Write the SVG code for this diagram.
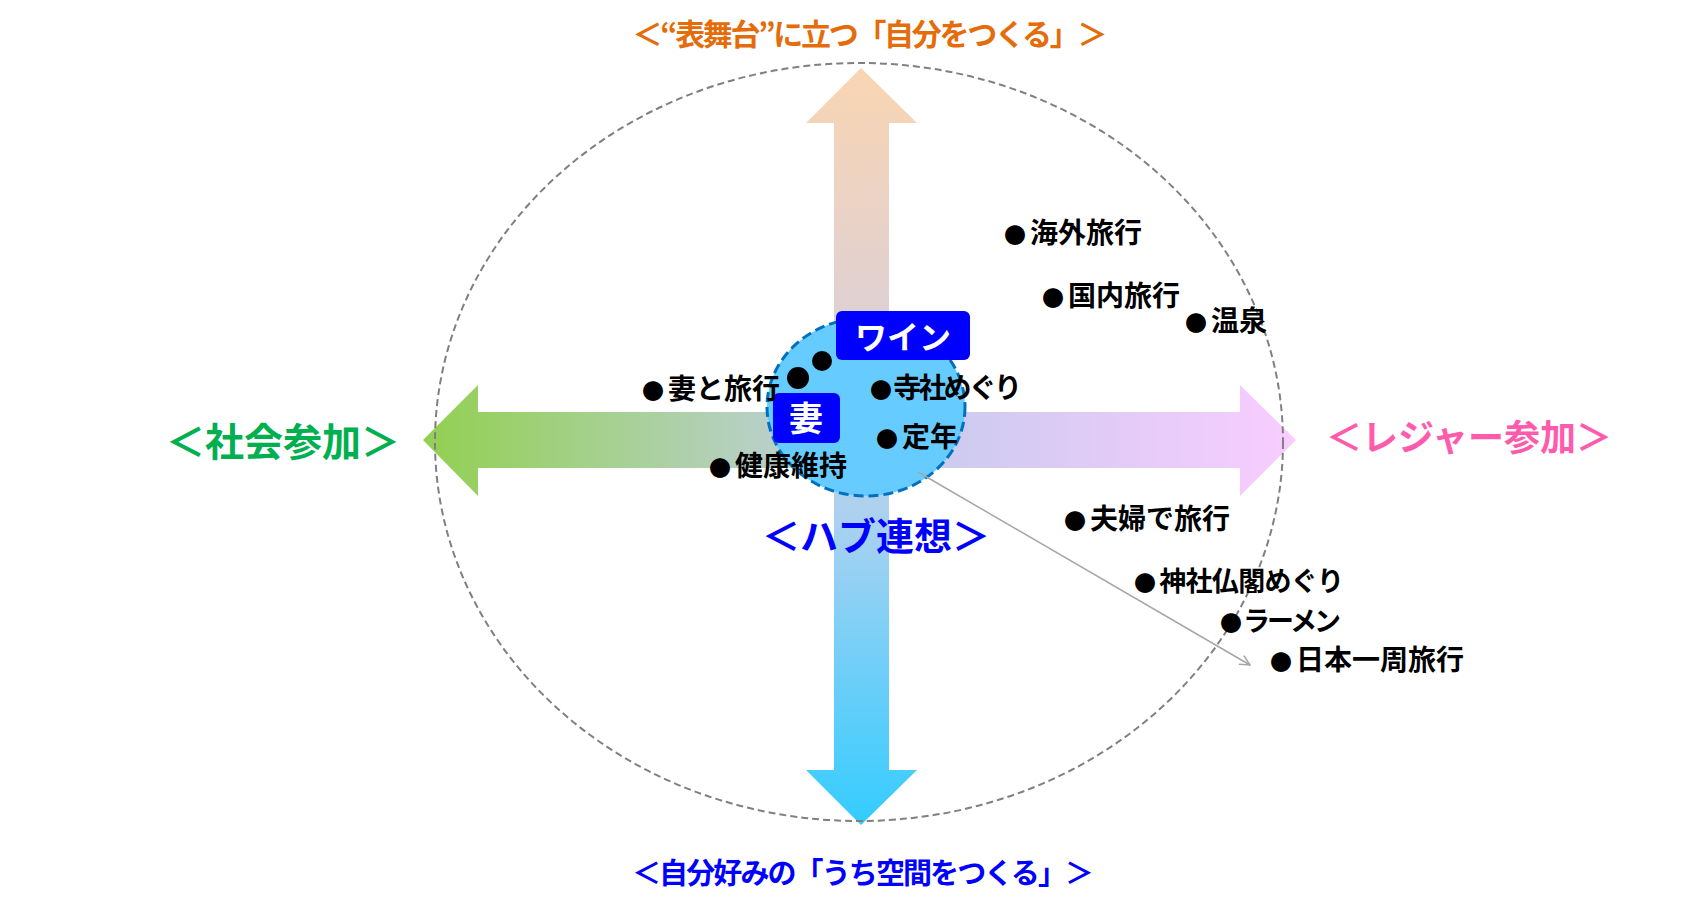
<svg xmlns="http://www.w3.org/2000/svg" width="1701" height="916" viewBox="0 0 1701 916">
<defs>
<linearGradient id="gV" gradientUnits="userSpaceOnUse" x1="0" y1="68" x2="0" y2="825">
<stop offset="0" stop-color="#F9D5B2"/>
<stop offset="0.35" stop-color="#DDD0D6"/>
<stop offset="0.6" stop-color="#A9D1F0"/>
<stop offset="1" stop-color="#33CCFF"/>
</linearGradient>
<linearGradient id="gH" gradientUnits="userSpaceOnUse" x1="423" y1="0" x2="1296" y2="0">
<stop offset="0" stop-color="#92D050"/>
<stop offset="0.38" stop-color="#B6D0C4"/>
<stop offset="0.62" stop-color="#CFCBF0"/>
<stop offset="1" stop-color="#F9CCFF"/>
</linearGradient>
<marker id="openArrow" viewBox="0 0 12 12" refX="11" refY="6" markerWidth="12" markerHeight="12" markerUnits="userSpaceOnUse" orient="auto">
<path d="M1,1 L11,6 L1,11" fill="none" stroke="#A6A6A6" stroke-width="1.5"/>
</marker>
<style>
.t{font-family:"Noto Sans CJK JP","Noto Sans",sans-serif;font-weight:bold}
.lbl{font-size:28px;fill:#000}
.sm{font-size:27px}
.b{font-size:22px}
.ttl{text-anchor:middle}
</style>
</defs>
<rect width="1701" height="916" fill="#FFFFFF"/>
<g id="arrows">
<polygon id="arrow-horizontal" points="423,440 478,385 478,412 1240,412 1240,385 1296,440 1240,496 1240,468 478,468 478,496" fill="url(#gH)"/>
<polygon id="arrow-vertical" points="861,68 917,123 889,123 889,770 917,770 861,825 806,770 834,770 834,123 806,123" fill="url(#gV)"/>
</g>
<g id="outer-ellipse">
<ellipse cx="859" cy="442" rx="424" ry="379" fill="none" stroke="#808080" stroke-width="2" stroke-dasharray="7,4"/>
</g>
<g id="hub">
<ellipse cx="866" cy="407" rx="99" ry="89" fill="#66CCFF" stroke="#0070C0" stroke-width="3" stroke-dasharray="10,5"/>
<circle cx="822" cy="361" r="10" fill="#000"/>
<circle cx="798" cy="378" r="11" fill="#000"/>
</g>
<g id="connectors">
<line x1="918" y1="472" x2="1250" y2="665" stroke="#A6A6A6" stroke-width="1.5" marker-end="url(#openArrow)"/>
</g>
<g id="node-wine">
<rect x="836" y="311" width="134" height="49" rx="6" fill="#0000FF"/>
<text class="t ttl" x="903" y="349" font-size="32" fill="#FFFFFF">ワイン</text>
</g>
<g id="node-tsuma">
<rect x="773" y="393" width="67" height="50" rx="6" fill="#0000FF"/>
<text class="t ttl" x="806" y="431" font-size="34" fill="#FFFFFF">妻</text>
</g>
<g id="labels">
<text id="l1" class="t lbl" x="1004" y="243"><tspan class="b">●</tspan><tspan dx="4">海外旅行</tspan></text>
<text id="l2" class="t lbl" x="1042" y="306"><tspan class="b">●</tspan><tspan dx="4">国内旅行</tspan></text>
<text id="l3" class="t lbl" x="1185" y="331"><tspan class="b">●</tspan><tspan dx="4">温泉</tspan></text>
<text id="l4" class="t lbl" x="870" y="398" textLength="152" lengthAdjust="spacing"><tspan class="b">●</tspan><tspan dx="4">寺社めぐり</tspan></text>
<text id="l5" class="t lbl" x="876" y="447"><tspan class="b">●</tspan><tspan dx="4">定年</tspan></text>
<text id="l6" class="t lbl" x="642" y="399"><tspan class="b">●</tspan><tspan dx="4">妻と旅行</tspan></text>
<text id="l7" class="t lbl" x="709" y="476"><tspan class="b">●</tspan><tspan dx="4">健康維持</tspan></text>
<text id="l8" class="t lbl" x="1064" y="529"><tspan class="b">●</tspan><tspan dx="4">夫婦で旅行</tspan></text>
<text id="l9" class="t lbl sm" x="1134" y="591" textLength="210" lengthAdjust="spacing"><tspan class="b">●</tspan><tspan dx="4">神社仏閣めぐり</tspan></text>
<text id="l10" class="t lbl sm" x="1220" y="631" textLength="121" lengthAdjust="spacing"><tspan class="b">●</tspan><tspan dx="4">ラーメン</tspan></text>
<text id="l11" class="t lbl" x="1270" y="670"><tspan class="b">●</tspan><tspan dx="4">日本一周旅行</tspan></text>
</g>
<g id="titles">
<text id="title-top" class="t ttl" x="870" y="45" font-size="30" fill="#E46C0A" textLength="475" lengthAdjust="spacing">＜“表舞台”に立つ「自分をつくる」＞</text>
<text id="title-bottom" class="t ttl" x="863" y="884" font-size="29" fill="#0000FF" textLength="462" lengthAdjust="spacing">＜自分好みの「うち空間をつくる」＞</text>
<text id="title-left" class="t ttl" x="283" y="456" font-size="39" fill="#00B050" textLength="234" lengthAdjust="spacing">＜社会参加＞</text>
<text id="title-right" class="t ttl" x="1469" y="451" font-size="36" fill="#FF5BAD">＜レジャー参加＞</text>
<text id="title-hub" class="t ttl" x="876" y="550" font-size="38" fill="#0000FF">＜ハブ連想＞</text>
</g>
</svg>
